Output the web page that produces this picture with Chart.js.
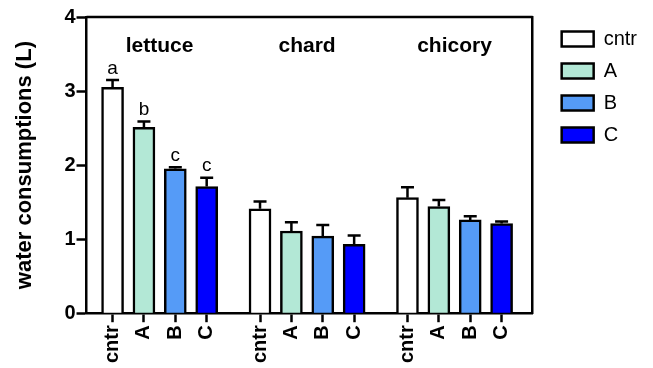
<!DOCTYPE html>
<html>
<head>
<meta charset="utf-8">
<script src="https://cdn.jsdelivr.net/npm/chart.js@4"></script>
<style>
  body { margin: 0; background: #fff; }
  #wrap { width: 653px; height: 368px; }
</style>
</head>
<body>
<div id="wrap"><canvas id="graf"></canvas></div>
<script>
// data
var crops = ['lettuce', 'chard', 'chicory'];
var series = ['cntr', 'A', 'B', 'C'];
var cntrVals = [3.05, 1.41, 1.56];
var cntrErr = [0.10, 0.10, 0.14];
var aVals = [2.51, 1.11, 1.44];
var aErr = [0.08, 0.12, 0.09];
var bVals = [1.95, 1.04, 1.26];
var bErr = [0.02, 0.15, 0.05];
var cVals = [1.71, 0.93, 1.21];
var cErr = [0.12, 0.12, 0.03];
var lettuceLetters = ['a', 'b', 'c', 'c'];
var yTicks = [0, 1, 2, 3, 4];

var colors = ['#ffffff', '#b3e8d6', '#559bf7', '#0000ff'];
var groupStep = 4.7;
var FONT = 'Liberation Sans, Arial, sans-serif';

var allVals = [cntrVals, aVals, bVals, cVals];
var allErr = [cntrErr, aErr, bErr, cErr];

function xPos(g, i) { return g * groupStep + i; }

var datasets = series.map(function(name, i) {
    return {
        label: name,
        data: crops.map(function(c, g) { return { x: xPos(g, i), y: allVals[i][g] }; }),
        err: allErr[i],
        backgroundColor: colors[i],
        borderColor: '#000',
        borderWidth: 2.5,
        barThickness: 22,
        grouped: false
    };
});

var tickPositions = [];
crops.forEach(function(c, g) {
    series.forEach(function(s, i) { tickPositions.push(xPos(g, i)); });
});

var extras = {
    id: 'extras',
    afterDatasetsDraw: function(chart) {
        var ctx = chart.ctx;
        var y = chart.scales.y;
        var x = chart.scales.x;
        var area = chart.chartArea;
        ctx.save();
        ctx.strokeStyle = '#000';
        ctx.lineWidth = 2.5;
        // error bars (upper half only)
        chart.data.datasets.forEach(function(ds, di) {
            var meta = chart.getDatasetMeta(di);
            meta.data.forEach(function(bar, j) {
                var top = y.getPixelForValue(ds.data[j].y + ds.err[j]);
                ctx.beginPath();
                ctx.moveTo(bar.x, bar.y);
                ctx.lineTo(bar.x, top);
                ctx.moveTo(bar.x - 6.5, top);
                ctx.lineTo(bar.x + 6.5, top);
                ctx.stroke();
                if (j === 0) {
                    ctx.fillStyle = '#000';
                    ctx.font = '19px ' + FONT;
                    ctx.textAlign = 'center';
                    ctx.textBaseline = 'bottom';
                    ctx.fillText(lettuceLetters[di], bar.x, top - 2);
                }
            });
        });
        // top frame line
        ctx.beginPath();
        ctx.moveTo(area.left, area.top);
        ctx.lineTo(area.right, area.top);
        ctx.stroke();
        // crop names
        ctx.fillStyle = '#000';
        ctx.font = 'bold 21px ' + FONT;
        ctx.textAlign = 'center';
        ctx.textBaseline = 'middle';
        crops.forEach(function(c, g) {
            var cx = x.getPixelForValue((xPos(g, 0) + xPos(g, 3)) / 2);
            ctx.fillText(c, cx, area.top + 29);
        });
        ctx.restore();
    }
};

var chart = new Chart(document.getElementById('graf'), {
    type: 'bar',
    data: { datasets: datasets },
    options: {
        responsive: true,
        maintainAspectRatio: false,
        animation: false,
        devicePixelRatio: 1,
        layout: { padding: { left: 12, top: 17, right: 6, bottom: 2 } },
        plugins: {
            legend: {
                position: 'right',
                align: 'start',
                labels: {
                    boxWidth: 32,
                    boxHeight: 15,
                    padding: 12,
                    color: '#000',
                    font: { family: FONT, size: 20 }
                }
            },
            tooltip: { enabled: false }
        },
        scales: {
            x: {
                type: 'linear',
                offset: false,
                min: -0.83,
                max: 13.39,
                afterBuildTicks: function(scale) {
                    scale.ticks = tickPositions.map(function(v) { return { value: v }; });
                },
                grid: { offset: false, drawOnChartArea: false, drawTicks: true, tickLength: 9, tickColor: '#000', tickWidth: 2.5 },
                border: { color: '#000', width: 2.5 },
                ticks: {
                    autoSkip: false,
                    minRotation: 90,
                    maxRotation: 90,
                    padding: 3,
                    color: '#000',
                    font: { family: FONT, size: 20, weight: 'bold' },
                    callback: function(v, i) { return series[i % series.length]; }
                }
            },
            y: {
                min: 0,
                max: 4,
                afterBuildTicks: function(scale) {
                    scale.ticks = yTicks.map(function(v) { return { value: v }; });
                },
                grid: { drawOnChartArea: false, drawTicks: true, tickLength: 10, tickColor: '#000', tickWidth: 2.5 },
                border: { color: '#000', width: 2.5 },
                ticks: {
                    padding: 1,
                    color: '#000',
                    font: { family: FONT, size: 20, weight: 'bold' }
                },
                title: {
                    display: true,
                    text: 'water consumptions (L)',
                    color: '#000',
                    font: { family: FONT, size: 22, weight: 'bold' },
                    padding: { top: 0, bottom: 25 }
                }
            },
            y2: {
                position: 'right',
                min: 0,
                max: 4,
                afterFit: function(scale) { scale.width = 17; },
                grid: { display: false },
                border: { display: true, color: '#000', width: 2.5 },
                ticks: { display: false }
            }
        }
    },
    plugins: [extras]
});
</script>
</body>
</html>
